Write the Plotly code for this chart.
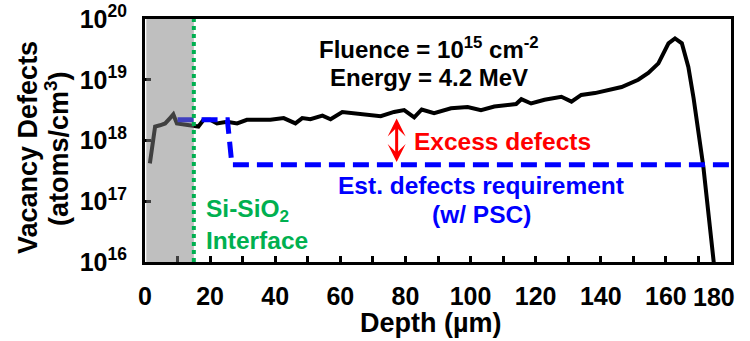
import numpy as np
import plotly.graph_objects as go

# Simulated vacancy-defect profile vs depth (4.2 MeV, 1e15 cm^-2)
depth_um = [1.5, 3.1, 4.6, 6.2, 7.7, 8.7, 9.8, 11.8, 14.9, 16.4, 18.0, 20.0, 22.1,
            25.2, 28.3, 31.3, 35.4, 38.5, 42.6, 46.2, 48.3, 50.8, 54.5, 57.0, 60.6,
            64.2, 68.3, 72.4, 76.5, 79.6, 82.7, 85.0, 88.8, 94.0, 99.1, 103.2,
            107.3, 114.0, 115.6, 118.6, 122.7, 127.9, 131.0, 134.0, 138.2, 142.3,
            146.4, 151.5, 154.6, 157.7, 160.8, 162.8, 164.9, 166.9, 168.5, 171.5,
            174.6, 175.5]
vacancies = [4.2e17, 1.70e18, 1.78e18, 1.91e18, 2.34e18, 2.69e18, 1.91e18, 1.86e18,
             1.74e18, 1.70e18, 2.19e18, 2.19e18, 1.91e18, 2.04e18, 1.91e18, 2.19e18,
             2.19e18, 2.19e18, 2.34e18, 1.91e18, 2.34e18, 2.24e18, 2.57e18, 2.24e18,
             2.95e18, 2.82e18, 2.63e18, 2.51e18, 2.95e18, 3.16e18, 2.40e18, 3.24e18,
             2.82e18, 3.39e18, 3.55e18, 3.16e18, 3.63e18, 3.98e18, 4.79e18, 4.07e18,
             4.68e18, 5.25e18, 4.37e18, 5.62e18, 6.03e18, 6.76e18, 7.59e18, 1.0e19,
             1.29e19, 1.86e19, 3.98e19, 4.79e19, 3.98e19, 1.62e19, 5.01e18, 3.72e17,
             1.07e16, 4.0e15]

# Estimated defect requirement with PSC
req_depth_um = [10.0, 25.3, 26.7, 180.0]
req_defects = [2.2e18, 2.2e18, 4.0e17, 4.0e17]

# Si-SiO2 interface depth and excess-defect marker
interface_um = 15.0
excess_x_um = 77.3
excess_top = 2.3e18
excess_bottom = 4.2e17

x_tickvals = [0, 20, 40, 60, 80, 100, 120, 140, 160, 180]
x_ticktext = ["0", "20", "40", "60", "80", "100", "120", "140", "160", "180"]
x_minor_ticks = list(range(10, 180, 20))
y_tickvals = [1e16, 1e17, 1e18, 1e19, 1e20]
y_ticktext = ["10<sup>16</sup>", "10<sup>17</sup>", "10<sup>18</sup>",
              "10<sup>19</sup>", "10<sup>20</sup>"]

FONT = "Liberation Sans, Arial, sans-serif"
BLUE = "#0000ff"
RED = "#ff0000"
GREEN = "#00b050"

fig = go.Figure()
fig.add_trace(go.Scatter(x=depth_um, y=vacancies, mode="lines",
                         line=dict(color="black", width=4), showlegend=False))
fig.add_trace(go.Scatter(x=req_depth_um, y=req_defects, mode="lines",
                         line=dict(color=BLUE, width=5, dash="16px,8px"),
                         showlegend=False))

# shaded oxide region and interface marker
fig.add_shape(type="rect", xref="x", yref="y domain", x0=0.4, x1=interface_um,
              y0=0, y1=1, fillcolor="rgba(128,128,128,0.5)", line_width=0,
              layer="above")
fig.add_shape(type="line", xref="x", yref="y domain", x0=interface_um,
              x1=interface_um, y0=0, y1=1,
              line=dict(color=GREEN, width=4, dash="4px,4px"), layer="above")

# double-headed arrow for the excess defects
fig.add_annotation(x=excess_x_um, y=np.log10(excess_top), ax=excess_x_um,
                   ay=np.log10(excess_bottom), xref="x", yref="y", axref="x",
                   ayref="y", text="", showarrow=True, arrowhead=3,
                   arrowsize=1.0, arrowwidth=3, arrowcolor=RED,
                   arrowside="end+start", startarrowhead=3, startarrowsize=1.0)


# paper coords from pixel positions (plot area 145..731 x 19..262)
def px(x):
    return (x - 145) / 586.0


def py(y):
    return (262 - y) / 243.0


def label(text, x, y, color="black", xanchor="center", size=24.5, angle=0):
    fig.add_annotation(text=text, x=x, y=y, xref="paper", yref="paper",
                       xanchor=xanchor, yanchor="middle", showarrow=False,
                       textangle=angle,
                       font=dict(family=FONT, size=size, color=color,
                                 weight="bold"))


label("Fluence = 10<sup>15</sup> cm<sup>-2</sup>", px(429), py(48), size=24)
label("Energy = 4.2 MeV", px(429), py(77), size=24)
label("Excess defects", px(412), py(141), RED, "left")
label("Est. defects requirement", px(481), py(185), BLUE)
label("(w/ PSC)", px(481), py(214), BLUE)
label("Si-SiO<sub>2</sub>", px(204), py(210), GREEN, "left")
label("Interface", px(204), py(240), GREEN, "left")

# the last x tick label sits at the frame edge; pull it inside the canvas
label(x_ticktext[-1], px(737), py(297), xanchor="right", size=25)

# axis titles
label("Depth (µm)", px(431), py(323), size=27)
label("Vacancy Defects", px(28), py(148), size=27, angle=-90)
label("(atoms/cm<sup>3</sup>)", px(57), py(148), size=27, angle=-90)

axis_common = dict(showline=True, linewidth=3, linecolor="black", mirror=True,
                   ticks="inside", ticklen=6, tickwidth=2.5, tickcolor="black",
                   showgrid=False, zeroline=False, automargin=False,
                   tickfont=dict(family=FONT, size=25, color="black", weight="bold"))

fig.update_xaxes(range=[0, 180], tickmode="array", tickvals=x_tickvals[:-1],
                 ticktext=x_ticktext[:-1], ticklabelstandoff=10,
                 minor=dict(tickmode="array", tickvals=x_minor_ticks,
                            ticks="inside", ticklen=6, tickwidth=2.5,
                            tickcolor="black"),
                 **axis_common)
fig.update_yaxes(type="log", range=[16, 20], tickmode="array",
                 tickvals=y_tickvals, ticktext=y_ticktext, ticklabelstandoff=10,
                 **axis_common)

fig.update_layout(width=750, height=341, margin=dict(l=145, r=19, t=19, b=79),
                  plot_bgcolor="white", paper_bgcolor="white",
                  font=dict(family=FONT, color="black"))

fig.write_html("out.html")
